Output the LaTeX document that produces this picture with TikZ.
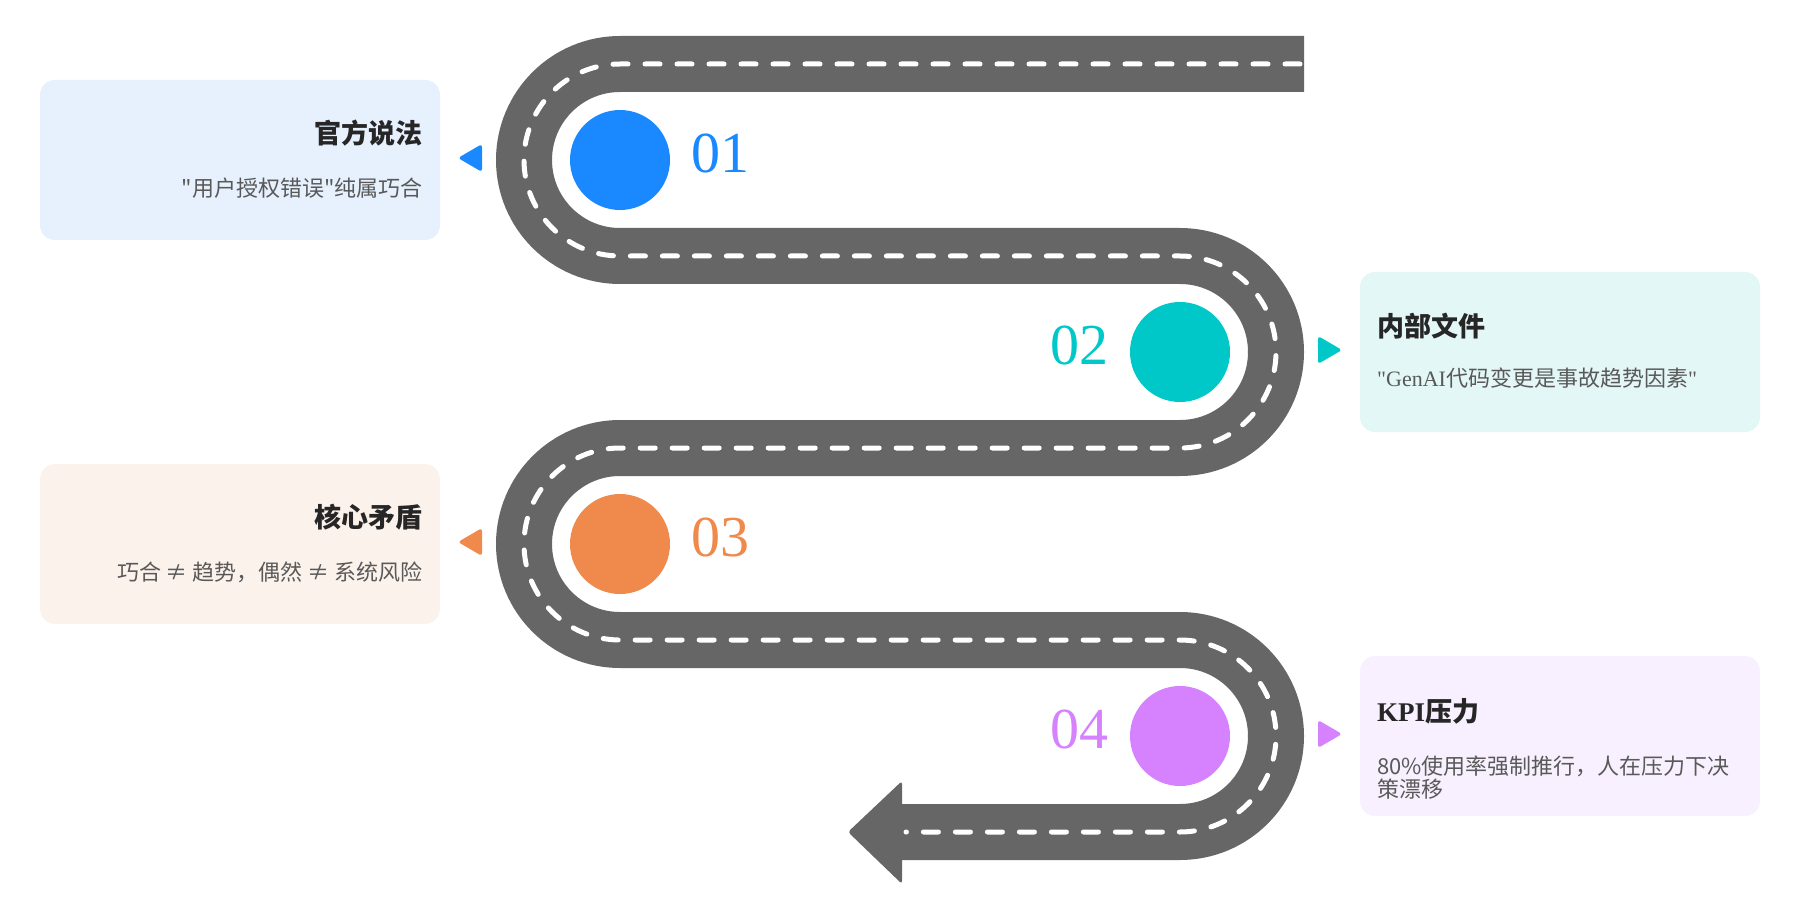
\documentclass[tikz,border=0pt]{standalone}
\usepackage{fontspec}
\setmainfont{Liberation Serif}[Ligatures=TeXOff]
\newfontfamily\cjk{Noto Sans CJK SC}
\definecolor{carretera}{HTML}{666666}
\definecolor{azul}{HTML}{1A88FF}
\definecolor{turquesa}{HTML}{00C8C8}
\definecolor{naranja}{HTML}{F08A4C}
\definecolor{violeta}{HTML}{D682FF}
\definecolor{fondoazul}{HTML}{E6F1FD}
\definecolor{fondoturq}{HTML}{E3F7F6}
\definecolor{fondonar}{HTML}{FCF2EC}
\definecolor{fondovio}{HTML}{F8F0FE}
\definecolor{tinta}{HTML}{262626}
\definecolor{gris}{HTML}{595959}
\begin{document}
\begin{tikzpicture}[x=1pt, y=-1pt,
    caja/.style={rounded corners=15pt},
    titulo/.style={inner sep=0pt, text=tinta, font=\fontsize{27}{30}\selectfont\bfseries},
    desc/.style={inner sep=0pt, text=gris, align=left, font=\fontsize{22}{23}\selectfont},
    num/.style={inner sep=0pt, font=\fontsize{58}{60}\selectfont},
    parada/.style={circle, inner sep=0pt, minimum size=100pt}]
  \useasboundingbox (0,0) rectangle (1800,920);

  % Cajas de texto
  \fill[fondoazul, caja] (40,80)   rectangle (440,240);
  \fill[fondoturq, caja] (1360,272) rectangle (1760,432);
  \fill[fondonar, caja]  (40,464)  rectangle (440,624);
  \fill[fondovio, caja]  (1360,656) rectangle (1760,816);

  % Carretera
  \draw[carretera, line width=56pt] (1304,64) -- (620,64)
        arc[start angle=270, end angle=90, radius=96] -- (1180,256)
        arc[start angle=-90, end angle=90, radius=96] -- (620,448)
        arc[start angle=270, end angle=90, radius=96] -- (1180,640)
        arc[start angle=-90, end angle=90, radius=96] -- (902,832);
  \fill[carretera, rounded corners=3pt] (902,781) -- (848,832) -- (902,884) -- cycle;

  % Linea central
  \draw[white, line width=5pt, line cap=round, dash pattern=on 15pt off 17pt]
        (1300,64) -- (620,64)
        arc[start angle=270, end angle=90, radius=96] -- (1180,256)
        arc[start angle=-90, end angle=90, radius=96] -- (620,448)
        arc[start angle=270, end angle=90, radius=96] -- (1180,640)
        arc[start angle=-90, end angle=90, radius=96] -- (906,832);

  % Paradas
  \node[parada, fill=azul]     (c1) at (620,160)  {};
  \node[parada, fill=turquesa] (c2) at (1180,352) {};
  \node[parada, fill=naranja]  (c3) at (620,544)  {};
  \node[parada, fill=violeta]  (c4) at (1180,736) {};

  % Numeros
  \node[num, text=azul, anchor=base west]     (n1) at (691,173)  {01};
  \node[num, text=turquesa, anchor=base east] (n2) at (1109,364) {02};
  \node[num, text=naranja, anchor=base west]  (n3) at (691,556)  {03};
  \node[num, text=violeta, anchor=base east]  (n4) at (1109,748) {04};

  % Marcas
  \fill[azul, rounded corners=3pt]     (482,144) -- (458,158) -- (482,172) -- cycle;
  \fill[turquesa, rounded corners=3pt] (1318,336) -- (1342,350) -- (1318,364) -- cycle;
  \fill[naranja, rounded corners=3pt]  (482,528) -- (458,542) -- (482,556) -- cycle;
  \fill[violeta, rounded corners=3pt]  (1318,720) -- (1342,734) -- (1318,748) -- cycle;

  % Textos
  \node[titulo, anchor=east] (t1) at (423,133) {\cjk 官方说法};
  \node[desc, anchor=east]   (d1) at (423,188) {\cjk "用户授权错误"纯属巧合};
  \node[titulo, anchor=west] (t2) at (1377,326) {\cjk 内部文件};
  \node[desc, anchor=west]   (d2) at (1377,378) {"GenAI{\cjk 代码变更是事故趋势因素}"};
  \node[titulo, anchor=east] (t3) at (423,517) {\cjk 核心矛盾};
  \node[desc, anchor=east]   (d3) at (423,572) {\cjk 巧合 ≠ 趋势，偶然 ≠ 系统风险};
  \node[titulo, anchor=west] (t4) at (1377,711) {KPI{\cjk 压力}};
  \node[desc, anchor=west]   (d4) at (1377,778) {{\cjk 80\%使用率强制推行，人在压力下决}\\{\cjk 策漂移}};
\end{tikzpicture}
\end{document}
